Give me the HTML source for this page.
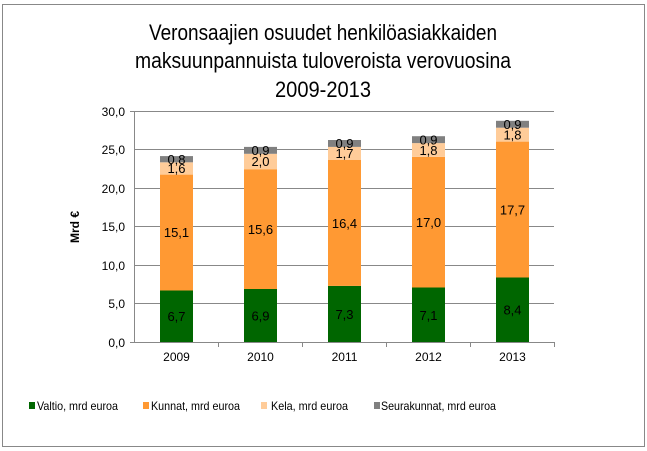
<!DOCTYPE html>
<html><head><meta charset="utf-8"><style>
html,body{margin:0;padding:0;background:#fff}
svg{display:block;font-family:"Liberation Sans",Arial,sans-serif}
</style></head><body>
<svg width="647" height="451" viewBox="0 0 647 451" xmlns="http://www.w3.org/2000/svg">
<rect x="2.5" y="4.5" width="642" height="442" fill="#fff" stroke="#888" stroke-width="1"/>
<g font-size="22" fill="#000" text-anchor="middle">
<text x="323" y="40" textLength="348" lengthAdjust="spacingAndGlyphs">Veronsaajien osuudet henkilöasiakkaiden</text>
<text x="323" y="68" textLength="376" lengthAdjust="spacingAndGlyphs">maksuunpannuista tuloveroista verovuosina</text>
<text x="323" y="97" textLength="96" lengthAdjust="spacingAndGlyphs">2009-2013</text>
</g>
<g stroke="#888" stroke-width="1">
<line x1="134" y1="111.5" x2="554" y2="111.5"/>
<line x1="134" y1="149.5" x2="554" y2="149.5"/>
<line x1="134" y1="188.5" x2="554" y2="188.5"/>
<line x1="134" y1="226.5" x2="554" y2="226.5"/>
<line x1="134" y1="265.5" x2="554" y2="265.5"/>
<line x1="134" y1="303.5" x2="554" y2="303.5"/>
<line x1="130" y1="342.5" x2="554" y2="342.5"/>
<line x1="134.5" y1="111" x2="134.5" y2="343"/>
<line x1="130" y1="111.5" x2="134" y2="111.5"/>
<line x1="218.5" y1="342" x2="218.5" y2="347"/>
<line x1="302.5" y1="342" x2="302.5" y2="347"/>
<line x1="386.5" y1="342" x2="386.5" y2="347"/>
<line x1="470.5" y1="342" x2="470.5" y2="347"/>
<line x1="554.5" y1="342" x2="554.5" y2="347"/>
</g>
<g font-size="12" text-anchor="end">
<text x="125" y="116">30,0</text>
<text x="125" y="154">25,0</text>
<text x="125" y="193">20,0</text>
<text x="125" y="231">15,0</text>
<text x="125" y="270">10,0</text>
<text x="125" y="308">5,0</text>
<text x="125" y="347">0,0</text>
</g>
<text x="0" y="0" font-size="12" font-weight="bold" transform="translate(79,227) rotate(-90)" text-anchor="middle">Mrd €</text>
<g font-size="12" text-anchor="middle">
<text x="176.5" y="361">2009</text><text x="260.5" y="361">2010</text><text x="344.5" y="361">2011</text><text x="428.5" y="361">2012</text><text x="512.5" y="361">2013</text>
</g>
<g>
<rect x="160" y="290.5" width="33" height="51.5" fill="#006600"/>
<rect x="160" y="174.6" width="33" height="115.9" fill="#FF9933"/>
<rect x="160" y="162.3" width="33" height="12.3" fill="#FFCC99"/>
<rect x="160" y="156.1" width="33" height="6.2" fill="#808080"/>
<rect x="244" y="289" width="33" height="53" fill="#006600"/>
<rect x="244" y="169.2" width="33" height="119.8" fill="#FF9933"/>
<rect x="244" y="153.8" width="33" height="15.4" fill="#FFCC99"/>
<rect x="244" y="146.9" width="33" height="6.9" fill="#808080"/>
<rect x="328" y="285.9" width="33" height="56.1" fill="#006600"/>
<rect x="328" y="160" width="33" height="125.9" fill="#FF9933"/>
<rect x="328" y="146.9" width="33" height="13.1" fill="#FFCC99"/>
<rect x="328" y="140" width="33" height="6.9" fill="#808080"/>
<rect x="412" y="287.5" width="33" height="54.5" fill="#006600"/>
<rect x="412" y="156.9" width="33" height="130.6" fill="#FF9933"/>
<rect x="412" y="143.1" width="33" height="13.8" fill="#FFCC99"/>
<rect x="412" y="136.2" width="33" height="6.9" fill="#808080"/>
<rect x="496" y="277.5" width="33" height="64.5" fill="#006600"/>
<rect x="496" y="141.6" width="33" height="135.9" fill="#FF9933"/>
<rect x="496" y="127.7" width="33" height="13.9" fill="#FFCC99"/>
<rect x="496" y="120.8" width="33" height="6.9" fill="#808080"/>
</g>
<g font-size="13" text-anchor="middle">
<text x="176.5" y="321">6,7</text><text x="176.5" y="237">15,1</text><text x="176.5" y="173">1,6</text><text x="176.5" y="164">0,8</text>
<text x="260.5" y="320.5">6,9</text><text x="260.5" y="234">15,6</text><text x="260.5" y="166">2,0</text><text x="260.5" y="155">0,9</text>
<text x="344.5" y="319">7,3</text><text x="344.5" y="228">16,4</text><text x="344.5" y="158">1,7</text><text x="344.5" y="148">0,9</text>
<text x="428.5" y="320">7,1</text><text x="428.5" y="227">17,0</text><text x="428.5" y="155">1,8</text><text x="428.5" y="144.5">0,9</text>
<text x="512.5" y="314.5">8,4</text><text x="512.5" y="214.5">17,7</text><text x="512.5" y="139.5">1,8</text><text x="512.5" y="129">0,9</text>
</g>
<g font-size="12">
<rect x="29" y="402" width="6" height="7" fill="#006600"/><text x="37" y="410" textLength="81" lengthAdjust="spacingAndGlyphs">Valtio, mrd euroa</text>
<rect x="143" y="402" width="6" height="7" fill="#FF9933"/><text x="151" y="410" textLength="89" lengthAdjust="spacingAndGlyphs">Kunnat, mrd euroa</text>
<rect x="261" y="402" width="6" height="7" fill="#FFCC99"/><text x="271" y="410" textLength="77" lengthAdjust="spacingAndGlyphs">Kela, mrd euroa</text>
<rect x="374" y="402" width="6" height="7" fill="#808080"/><text x="381" y="410" textLength="115" lengthAdjust="spacingAndGlyphs">Seurakunnat, mrd euroa</text>
</g>
</svg>
</body></html>
